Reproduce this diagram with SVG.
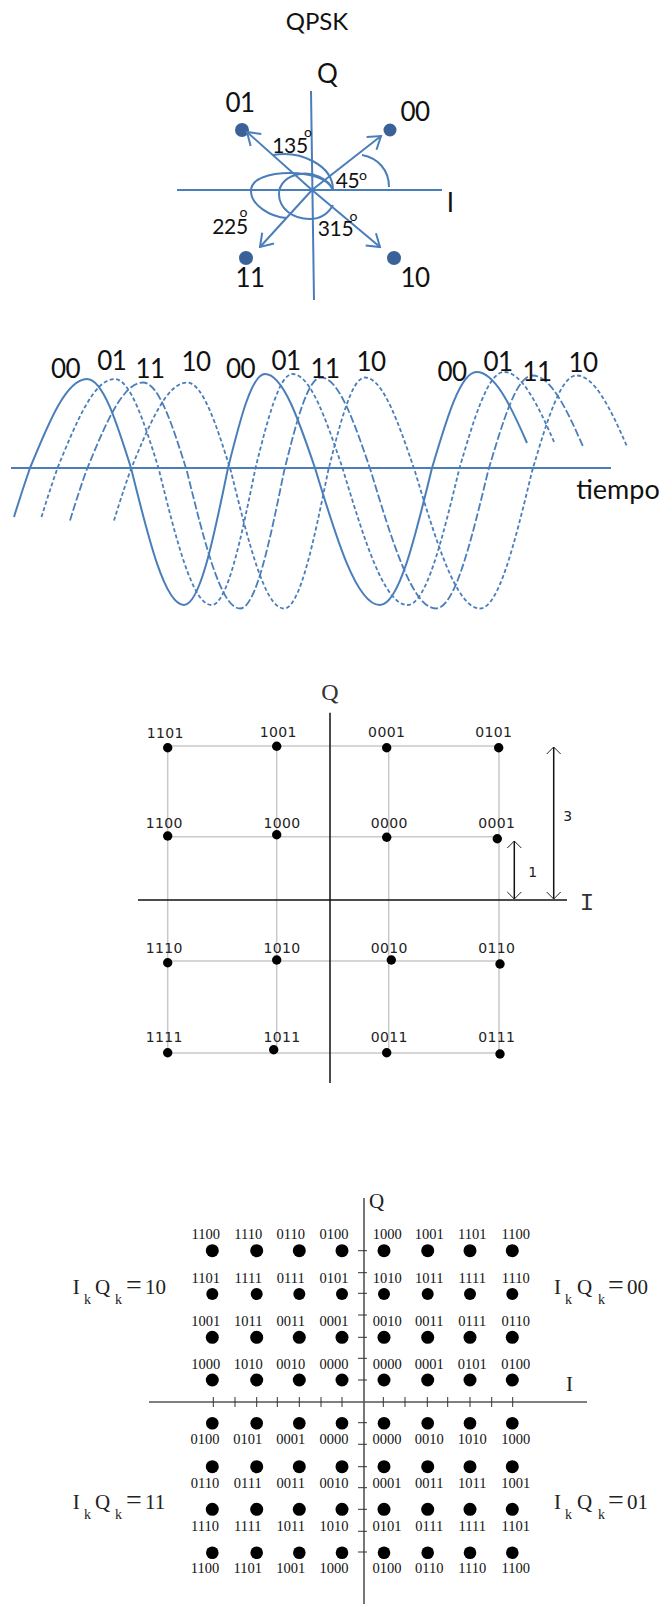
<svg xmlns="http://www.w3.org/2000/svg" width="662" height="1604" viewBox="0 0 662 1604">
<style>
.b{fill:none;stroke:#4a7ebb;stroke-width:2}
.d{fill:#3a6299}
.w{fill:none;stroke:#4a7ebb}
.c{font-family:Lato,"Open Sans",sans-serif;font-size:26px;letter-spacing:-.6px;fill:#111;text-anchor:middle}
.a{font-family:Lato,"Open Sans",sans-serif;font-size:21px;letter-spacing:-.4px;fill:#111;text-anchor:middle}
.o{font-family:Lato,"Open Sans",sans-serif;font-size:14px;fill:#111;text-anchor:middle}
.g{fill:none;stroke:#c9c9c9;stroke-width:1.5}
.k{fill:none;stroke:#111;stroke-width:1.5}
.p{font-family:"DejaVu Sans",sans-serif;font-size:14px;letter-spacing:.4px;fill:#222;text-anchor:middle}
.ax{fill:none;stroke:#555;stroke-width:1.6}
.t{fill:none;stroke:#333;stroke-width:1}
.s{font-family:"Liberation Serif",serif;font-size:14.5px;fill:#111;text-anchor:middle}
.f{font-family:"Liberation Serif",serif;font-size:21px;fill:#222}
.sub{font-size:14px}
</style>
<defs>
<marker id="ah" markerUnits="userSpaceOnUse" markerWidth="16" markerHeight="20" viewBox="0 0 16 20" refX="14" refY="10" orient="auto"><path d="M2 2L14 10L2 18" fill="none" stroke="#4a7ebb" stroke-width="2"/></marker>
<marker id="kh" markerUnits="userSpaceOnUse" markerWidth="10" markerHeight="16" viewBox="0 0 10 16" refX="9" refY="8" orient="auto-start-reverse"><path d="M2 1L9 8L2 15" fill="none" stroke="#222" stroke-width="1"/></marker>
<path id="wave" d="M14 517Q21 494 30 468C48.6 422.4 66.4 379 87 379C102.9 379 116.7 422.4 131 468C148.3 538.1 164.8 605 184 605C199.9 605 213.7 538.1 228 468C240 420 251.6 374 265 374C283 374 298.7 420 315 468C336.2 538.1 356.5 605 380 605C398.8 605 415 538.1 432 468C446.5 419 460.4 372 476.5 372C494.5 372 510.5 405 527 443"/>
</defs>

<g id="qpsk">
<text class="c" x="317" y="30" style="font-size:24px;letter-spacing:0">QPSK</text>
<path class="b" d="M177 190H442"/>
<path class="b" d="M311 91L314 300"/>
<circle class="d" cx="242" cy="130" r="7"/>
<circle class="d" cx="390" cy="130" r="6.5"/>
<circle class="d" cx="246" cy="258" r="7"/>
<circle class="d" cx="394" cy="258" r="7"/>
<g id="qpsk-connectors">
<path class="b" d="M312 190L381 136" marker-end="url(#ah)"/>
<path class="b" d="M312 190L247 132" marker-end="url(#ah)"/>
<path class="b" d="M312 190L260 247" marker-end="url(#ah)"/>
<path class="b" d="M312 190L380 247" marker-end="url(#ah)"/>
<path class="b" d="M389 187C389 170 378 158 362 155"/>
<path class="b" d="M273 155C300 150 333 165 333 190"/>
<path class="b" d="M333 190C325 172 290 172 275 174C258 177 251 183 251 191C251 205 270 217 287 218"/>
<path class="b" d="M333 190C328 178 312 172 300 174C287 176 279 184 279 194C279 208 292 219 310 219C320 219 328 214 333 205"/>
</g>
<text class="c" x="327" y="83">Q</text>
<text class="c" x="240" y="112">01</text>
<text class="c" x="415" y="121">00</text>
<text class="c" x="450" y="212">I</text>
<text class="c" x="250" y="287">11</text>
<text class="c" x="415" y="287">10</text>
<text class="a" x="290" y="153">135</text>
<text class="o" x="308" y="137">o</text>
<text class="a" x="347.500" y="188">45</text>
<text class="o" x="363" y="180">o</text>
<text class="a" x="230" y="234">225</text>
<text class="o" x="243.500" y="217">o</text>
<text class="a" x="335.500" y="236">315</text>
<text class="o" x="353.500" y="221">o</text>
</g>

<g id="waves">
<path class="b" d="M11 468H611"/>
<use href="#wave" class="w" style="stroke-width:2"/>
<use href="#wave" class="w" transform="translate(27.500 0)" style="stroke-width:1.8;stroke-dasharray:4 2.500"/>
<use href="#wave" class="w" transform="translate(56 3.500)" style="stroke-width:1.8;stroke-dasharray:8 2.500"/>
<use href="#wave" class="w" transform="translate(100 3.500)" style="stroke-width:1.8;stroke-dasharray:4 2.500"/>
<text class="c" x="65.500" y="378">00</text>
<text class="c" x="111.700" y="370">01</text>
<text class="c" x="150" y="378">11</text>
<text class="c" x="196" y="371">10</text>
<text class="c" x="240.500" y="378">00</text>
<text class="c" x="286" y="370">01</text>
<text class="c" x="325" y="378">11</text>
<text class="c" x="371" y="371">10</text>
<text class="c" x="452" y="380.700">00</text>
<text class="c" x="498" y="370.700">01</text>
<text class="c" x="537" y="380.700">11</text>
<text class="c" x="583" y="372">10</text>
<text class="c" x="618" y="499" style="font-size:27px;letter-spacing:0">tiempo</text>
</g>

<g id="qam16-grid">
<path class="g" d="M167.700 746V1053M276.700 746V1053M388.700 746V1053M499 746V1053"/>
<path class="g" d="M167.700 746H499M167.700 836.700H497M167.700 961H500M167.700 1053H500"/>
<path class="k" d="M138 900H567"/>
<path class="k" d="M330 712.700V1083"/>
<path class="k" d="M514.300 841V899" marker-start="url(#kh)" marker-end="url(#kh)"/>
<path class="k" d="M553.700 747V899" marker-start="url(#kh)" marker-end="url(#kh)"/>
<g fill="#000">
<circle cx="167.700" cy="747.700" r="4.700"/><circle cx="276.700" cy="746.300" r="4.700"/><circle cx="386.700" cy="747.700" r="4.700"/><circle cx="498.700" cy="747.700" r="4.700"/>
<circle cx="167.700" cy="836" r="4.700"/><circle cx="276.700" cy="834.700" r="4.700"/><circle cx="386.700" cy="837.300" r="4.700"/><circle cx="497.300" cy="838.700" r="4.700"/>
<circle cx="167.700" cy="962.700" r="4.700"/><circle cx="276.700" cy="960" r="4.700"/><circle cx="391.300" cy="960" r="4.700"/><circle cx="500" cy="964" r="4.700"/>
<circle cx="167.700" cy="1052.700" r="4.700"/><circle cx="273.700" cy="1049.700" r="4.700"/><circle cx="386.700" cy="1052.700" r="4.700"/><circle cx="500" cy="1054" r="4.700"/>
</g>
<text class="p" x="165.300" y="738.300">1101</text><text class="p" x="278.300" y="737.300">1001</text><text class="p" x="386.700" y="737.300">0001</text><text class="p" x="493.800" y="737.300">0101</text>
<text class="p" x="164.300" y="828">1100</text><text class="p" x="282" y="828">1000</text><text class="p" x="389.300" y="828">0000</text><text class="p" x="496.800" y="828">0001</text>
<text class="p" x="164.300" y="953.300">1110</text><text class="p" x="282" y="953.300">1010</text><text class="p" x="389.300" y="953.300">0010</text><text class="p" x="496.800" y="953.300">0110</text>
<text class="p" x="164.300" y="1042">1111</text><text class="p" x="282" y="1042">1011</text><text class="p" x="389.300" y="1042">0011</text><text class="p" x="496.800" y="1042">0111</text>
<text class="p" x="533" y="876.700">1</text>
<text class="p" x="568" y="820.700">3</text>
<text x="330" y="700" text-anchor="middle" style="font-family:'Liberation Serif',serif;font-size:24px;fill:#333">Q</text>
<text x="587" y="910" text-anchor="middle" style="font-family:'Liberation Mono',monospace;font-size:24px;fill:#333">I</text>
</g>

<g id="qam16-gray">
<path class="ax" d="M364 1198V1604"/>
<path class="ax" d="M149 1402H587"/>
<path class="t" d="M358 1250.700H367M358 1272.700H367M358 1293.300H367M358 1315H367M358 1337.300H367M358 1358.300H367M358 1380H367M358 1422.700H367M358 1444.300H367M358 1466.700H367M358 1487.700H367M358 1509.300H367M358 1531.300H367M358 1552H367"/>
<path class="t" d="M213.300 1397V1407M235 1397V1407M256.700 1397V1407M277.300 1397V1407M299.300 1397V1407M321 1397V1407M342 1397V1407M383.300 1397V1407M405 1397V1407M427.300 1397V1407M447.700 1397V1407M470 1397V1407M491.700 1397V1407M512.700 1397V1407"/>
<g fill="#000">
<circle cx="212.300" cy="1250.700" r="6.500"/><circle cx="256.700" cy="1250.700" r="6.500"/><circle cx="299.300" cy="1250.700" r="6.500"/><circle cx="342" cy="1250.700" r="6.500"/><circle cx="384" cy="1250.700" r="6.500"/><circle cx="427.700" cy="1250.700" r="6.500"/><circle cx="470" cy="1250.700" r="6.500"/><circle cx="512.300" cy="1250.700" r="6.500"/>
<circle cx="212.300" cy="1294" r="6"/><circle cx="256.700" cy="1294" r="6"/><circle cx="299.300" cy="1294" r="6"/><circle cx="342" cy="1294" r="6"/><circle cx="384" cy="1294" r="6"/><circle cx="427.700" cy="1294" r="6"/><circle cx="470" cy="1294" r="6"/><circle cx="512.300" cy="1294" r="6"/>
<circle cx="212.300" cy="1337.300" r="6.500"/><circle cx="256.700" cy="1337.300" r="6.500"/><circle cx="299.300" cy="1337.300" r="6.500"/><circle cx="342" cy="1337.300" r="6.500"/><circle cx="384" cy="1337.300" r="6.500"/><circle cx="427.700" cy="1337.300" r="6.500"/><circle cx="470" cy="1337.300" r="6.500"/><circle cx="512.300" cy="1337.300" r="6.500"/>
<circle cx="212.300" cy="1380" r="6.500"/><circle cx="256.700" cy="1380" r="6.500"/><circle cx="299.300" cy="1380" r="6.500"/><circle cx="342" cy="1380" r="6.500"/><circle cx="384" cy="1380" r="6.500"/><circle cx="427.700" cy="1380" r="6.500"/><circle cx="470" cy="1380" r="6.500"/><circle cx="512.300" cy="1380" r="6.500"/>
<circle cx="212.300" cy="1423.300" r="6.300"/><circle cx="256.700" cy="1423.300" r="6.300"/><circle cx="299.300" cy="1423.300" r="6.300"/><circle cx="342" cy="1423.300" r="6.300"/><circle cx="384" cy="1423.300" r="6.300"/><circle cx="427.700" cy="1423.300" r="6.300"/><circle cx="470" cy="1423.300" r="6.300"/><circle cx="512.300" cy="1423.300" r="6.300"/>
<circle cx="212.300" cy="1466.700" r="6.500"/><circle cx="256.700" cy="1466.700" r="6.500"/><circle cx="299.300" cy="1466.700" r="6.500"/><circle cx="342" cy="1466.700" r="6.500"/><circle cx="384" cy="1466.700" r="6.500"/><circle cx="427.700" cy="1466.700" r="6.500"/><circle cx="470" cy="1466.700" r="6.500"/><circle cx="512.300" cy="1466.700" r="6.500"/>
<circle cx="212.300" cy="1509.300" r="6.500"/><circle cx="256.700" cy="1509.300" r="6.500"/><circle cx="299.300" cy="1509.300" r="6.500"/><circle cx="342" cy="1509.300" r="6.500"/><circle cx="384" cy="1509.300" r="6.500"/><circle cx="427.700" cy="1509.300" r="6.500"/><circle cx="470" cy="1509.300" r="6.500"/><circle cx="512.300" cy="1509.300" r="6.500"/>
<circle cx="212.300" cy="1552.700" r="6.300"/><circle cx="256.700" cy="1552.700" r="6.300"/><circle cx="299.300" cy="1552.700" r="6.300"/><circle cx="342" cy="1552.700" r="6.300"/><circle cx="384" cy="1552.700" r="6.300"/><circle cx="427.700" cy="1552.700" r="6.300"/><circle cx="470" cy="1552.700" r="6.300"/><circle cx="512.300" cy="1552.700" r="6.300"/>
</g>
<text class="s" x="205.700" y="1239.300">1100</text><text class="s" x="248.300" y="1239.300">1110</text><text class="s" x="290.700" y="1239.300">0110</text><text class="s" x="334" y="1239.300">0100</text><text class="s" x="387.300" y="1239.300">1000</text><text class="s" x="429.300" y="1239.300">1001</text><text class="s" x="472.300" y="1239.300">1101</text><text class="s" x="515.700" y="1239.300">1100</text>
<text class="s" x="205.700" y="1283.300">1101</text><text class="s" x="248.300" y="1283.300">1111</text><text class="s" x="290.700" y="1283.300">0111</text><text class="s" x="334" y="1283.300">0101</text><text class="s" x="387.300" y="1283.300">1010</text><text class="s" x="429.300" y="1283.300">1011</text><text class="s" x="472.300" y="1283.300">1111</text><text class="s" x="515.700" y="1283.300">1110</text>
<text class="s" x="205.700" y="1326">1001</text><text class="s" x="248.300" y="1326">1011</text><text class="s" x="290.700" y="1326">0011</text><text class="s" x="334" y="1326">0001</text><text class="s" x="387.300" y="1326">0010</text><text class="s" x="429.300" y="1326">0011</text><text class="s" x="472.300" y="1326">0111</text><text class="s" x="515.700" y="1326">0110</text>
<text class="s" x="205.700" y="1368.700">1000</text><text class="s" x="248.300" y="1368.700">1010</text><text class="s" x="290.700" y="1368.700">0010</text><text class="s" x="334" y="1368.700">0000</text><text class="s" x="387.300" y="1368.700">0000</text><text class="s" x="429.300" y="1368.700">0001</text><text class="s" x="472.300" y="1368.700">0101</text><text class="s" x="515.700" y="1368.700">0100</text>
<text class="s" x="205" y="1444.300">0100</text><text class="s" x="247.700" y="1444.300">0101</text><text class="s" x="290.700" y="1444.300">0001</text><text class="s" x="334" y="1444.300">0000</text><text class="s" x="387" y="1444.300">0000</text><text class="s" x="429.300" y="1444.300">0010</text><text class="s" x="472.300" y="1444.300">1010</text><text class="s" x="515.700" y="1444.300">1000</text>
<text class="s" x="205" y="1488.300">0110</text><text class="s" x="247.700" y="1488.300">0111</text><text class="s" x="290.700" y="1488.300">0011</text><text class="s" x="334" y="1488.300">0010</text><text class="s" x="387" y="1488.300">0001</text><text class="s" x="429.300" y="1488.300">0011</text><text class="s" x="472.300" y="1488.300">1011</text><text class="s" x="515.700" y="1488.300">1001</text>
<text class="s" x="205" y="1531">1110</text><text class="s" x="247.700" y="1531">1111</text><text class="s" x="290.700" y="1531">1011</text><text class="s" x="334" y="1531">1010</text><text class="s" x="387" y="1531">0101</text><text class="s" x="429.300" y="1531">0111</text><text class="s" x="472.300" y="1531">1111</text><text class="s" x="515.700" y="1531">1101</text>
<text class="s" x="205" y="1573.300">1100</text><text class="s" x="247.700" y="1573.300">1101</text><text class="s" x="290.700" y="1573.300">1001</text><text class="s" x="334" y="1573.300">1000</text><text class="s" x="387" y="1573.300">0100</text><text class="s" x="429.300" y="1573.300">0110</text><text class="s" x="472.300" y="1573.300">1110</text><text class="s" x="515.700" y="1573.300">1100</text>
<text class="f" x="369" y="1208">Q</text>
<text class="f" x="566" y="1390.700">I</text>
<text class="f" y="1294.300"><tspan x="72.700">I</tspan><tspan class="sub" x="84" dy="10">k</tspan><tspan x="95" dy="-10">Q</tspan><tspan class="sub" x="115" dy="10">k</tspan><tspan x="126" dy="-10" style="font-size:28px">=</tspan><tspan x="145">10</tspan></text>
<text class="f" y="1294.300"><tspan x="554">I</tspan><tspan class="sub" x="565" dy="10">k</tspan><tspan x="577" dy="-10">Q</tspan><tspan class="sub" x="598" dy="10">k</tspan><tspan x="608" dy="-10" style="font-size:28px">=</tspan><tspan x="627">00</tspan></text>
<text class="f" y="1509.300"><tspan x="72.700">I</tspan><tspan class="sub" x="84" dy="10">k</tspan><tspan x="95" dy="-10">Q</tspan><tspan class="sub" x="115" dy="10">k</tspan><tspan x="126" dy="-10" style="font-size:28px">=</tspan><tspan x="145">11</tspan></text>
<text class="f" y="1509.300"><tspan x="554">I</tspan><tspan class="sub" x="565" dy="10">k</tspan><tspan x="577" dy="-10">Q</tspan><tspan class="sub" x="598" dy="10">k</tspan><tspan x="608" dy="-10" style="font-size:28px">=</tspan><tspan x="627">01</tspan></text>
</g>
</svg>
